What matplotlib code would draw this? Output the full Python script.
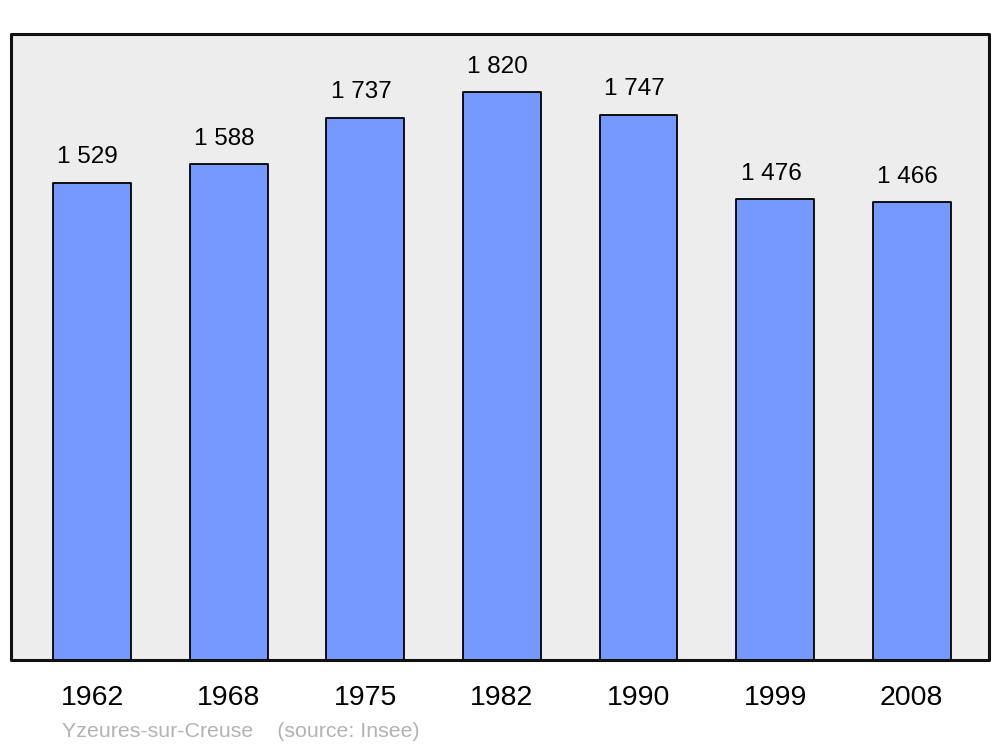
import matplotlib
matplotlib.use("Agg")
import matplotlib.pyplot as plt
from matplotlib.patches import Rectangle

years = ["1962", "1968", "1975", "1982", "1990", "1999", "2008"]
population = [1529, 1588, 1737, 1820, 1747, 1476, 1466]
value_labels = ["1 529", "1 588", "1 737", "1 820", "1 747", "1 476", "1 466"]
commune = "Yzeures-sur-Creuse"
source = "(source: Insee)"

plt.rcParams['font.family'] = ['Liberation Sans', 'DejaVu Sans']

fig = plt.figure(figsize=(10, 7.47), dpi=100)
ax = fig.add_axes([0.011, 0.1165, 0.978, 0.838])
ax.set_facecolor('#EDEDED')

x = list(range(len(years)))
bars = ax.bar(x, population, width=0.57, color='#7599FF', edgecolor='black',
              linewidth=1.3, zorder=2)
for b in bars:
    b.set_joinstyle('round')

for xi, v, lab in zip(x, population, value_labels):
    ax.annotate(lab, (xi, v), xytext=(-3, 14), textcoords='offset points',
                ha='center', va='baseline', fontsize=17.5)

ax.set_xlim(-0.593, 6.565)
ax.set_ylim(0, 2006)
ax.set_yticks([])
ax.set_xticks(x)
ax.set_xticklabels(years)
ax.tick_params(axis='x', length=0, pad=18, labelsize=20.5)
for s in ax.spines.values():
    s.set_visible(False)

frame = Rectangle((0, 0), 1, 1, transform=ax.transAxes, fill=False,
                  edgecolor='#111111', linewidth=2.2, joinstyle='round',
                  clip_on=False, zorder=5)
ax.add_patch(frame)

fig.text(0.062, 0.0135, commune + "    " + source, fontsize=15.4,
         color='#B3B3B3', ha='left', va='baseline')

fig.savefig("out.png", dpi=100)
